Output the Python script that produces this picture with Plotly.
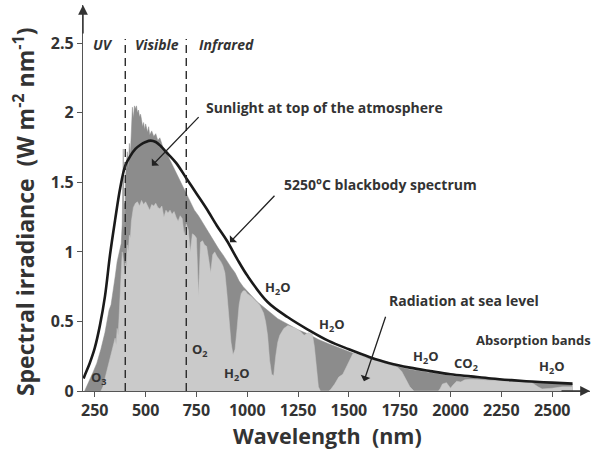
import plotly.graph_objects as go

# ---------------- data ----------------
toa_wl = [200, 220, 240, 260, 280, 300, 310, 320, 330, 340, 350, 360, 370, 380, 385,
          390, 393, 396, 398, 400, 405, 410, 415, 420, 425, 430, 435, 440, 445, 450,
          455, 460, 465, 470, 475, 480, 485, 490, 495, 500, 510, 515, 520, 530, 540,
          550, 560, 570, 580, 590, 600, 610, 620, 630, 640, 650, 660, 670, 680, 690,
          700, 720, 740, 760, 780, 800, 820, 840, 860, 880, 900, 920, 940, 960, 980,
          1000, 1050, 1100, 1150, 1200, 1250, 1300, 1350, 1400, 1450, 1500, 1550, 1600,
          1700, 1800, 1900, 2000, 2100, 2200, 2300, 2400, 2500, 2600]
toa_val = [0.00, 0.06, 0.13, 0.20, 0.30, 0.42, 0.50, 0.58, 0.62, 0.74, 0.82, 0.93, 0.99, 1.06, 1.20,
           1.74, 1.15, 1.35, 1.10, 1.50, 1.62, 1.72, 1.60, 1.78, 1.70, 1.92, 2.04, 1.96, 2.05, 2.03,
           2.05, 2.00, 2.02, 1.97, 1.99, 1.95, 1.90, 1.93, 1.88, 1.92, 1.86, 1.90, 1.84, 1.87, 1.83,
           1.85, 1.80, 1.82, 1.77, 1.73, 1.72, 1.69, 1.66, 1.63, 1.61, 1.58, 1.55, 1.52, 1.49, 1.45,
           1.42, 1.36, 1.30, 1.26, 1.21, 1.16, 1.11, 1.07, 1.02, 0.98, 0.93, 0.89, 0.85, 0.79, 0.75,
           0.72, 0.64, 0.58, 0.52, 0.48, 0.44, 0.41, 0.37, 0.34, 0.31, 0.28, 0.255, 0.235,
           0.19, 0.155, 0.13, 0.11, 0.095, 0.083, 0.072, 0.064, 0.057, 0.051]

sea_wl = [280, 290, 300, 310, 320, 330, 340, 350, 355, 360, 365, 370, 380, 385, 390, 395,
          400, 405, 410, 415, 420, 425, 430, 435, 440, 450, 460, 470, 480, 490, 500, 510,
          520, 530, 540, 550, 560, 570, 580, 590, 600, 610, 620, 630, 640, 650, 660, 670,
          680, 690, 700, 710, 720, 730, 740, 750, 760, 770, 780, 790, 800, 810, 820, 830,
          840, 850, 860, 870, 880, 890, 900, 910, 920, 930, 940, 950, 960, 970, 980, 990,
          1000, 1020, 1040, 1060, 1080, 1090, 1100, 1110, 1120, 1130, 1140, 1150, 1160,
          1180, 1200, 1220, 1240, 1260, 1280, 1300, 1320, 1330, 1340, 1350, 1360, 1400,
          1410, 1430, 1450, 1470, 1490, 1510, 1520, 1550, 1600, 1650, 1700, 1740, 1760,
          1780, 1800, 1820, 1940, 1950, 1960, 1980, 2000, 2010, 2030, 2050, 2070, 2100,
          2200, 2300, 2400, 2430, 2450, 2500, 2550, 2600]
sea_val = [0.00, 0.03, 0.09, 0.15, 0.21, 0.27, 0.33, 0.38, 0.33, 0.45, 0.40, 0.58, 0.90, 1.00, 0.95, 0.85,
           0.92, 0.88, 1.05, 1.00, 1.12, 1.10, 1.22, 1.28, 1.32, 1.35, 1.36, 1.33, 1.37, 1.34, 1.36, 1.33,
           1.30, 1.34, 1.33, 1.35, 1.32, 1.31, 1.33, 1.25, 1.30, 1.28, 1.30, 1.27, 1.29, 1.25, 1.22, 1.26,
           1.24, 1.12, 1.20, 1.16, 1.00, 1.13, 1.12, 1.10, 0.68, 1.07, 1.08, 1.05, 1.04, 0.95, 0.85, 0.98,
           1.00, 0.97, 0.95, 0.93, 0.90, 0.85, 0.70, 0.50, 0.35, 0.26, 0.30, 0.45, 0.62, 0.70, 0.72, 0.72,
           0.70, 0.68, 0.65, 0.62, 0.56, 0.50, 0.40, 0.22, 0.12, 0.11, 0.25, 0.35, 0.40,
           0.45, 0.47, 0.46, 0.45, 0.43, 0.40, 0.42, 0.41, 0.32, 0.15, 0.03, 0.00, 0.00,
           0.01, 0.05, 0.10, 0.12, 0.18, 0.24, 0.27, 0.26, 0.23, 0.21, 0.19, 0.17, 0.14,
           0.08, 0.03, 0.00, 0.00, 0.02, 0.05, 0.06, 0.02, 0.04, 0.07, 0.065, 0.08, 0.085,
           0.075, 0.07, 0.06, 0.03, 0.015, 0.02, 0.03, 0.03]

bb_wl = [195, 200, 225, 250, 275, 300, 325, 350, 375, 400, 425, 450, 475, 500, 525, 550,
         575, 600, 650, 700, 750, 800, 850, 900, 950, 1000, 1100, 1200, 1300, 1400, 1500,
         1600, 1700, 1800, 1900, 2000, 2100, 2200, 2300, 2400, 2500, 2600]
bb_val = [0.09, 0.11, 0.20, 0.31, 0.47, 0.68, 0.98, 1.23, 1.46, 1.62, 1.69, 1.74, 1.77, 1.79, 1.80, 1.79,
          1.76, 1.72, 1.64, 1.53, 1.42, 1.31, 1.19, 1.08, 0.95, 0.83, 0.64, 0.53, 0.44, 0.36, 0.30,
          0.245, 0.20, 0.168, 0.143, 0.12, 0.105, 0.09, 0.078, 0.068, 0.06, 0.053]

band_edges = [400, 700]
x_ticks = [250, 500, 750, 1000, 1250, 1500, 1750, 2000, 2250, 2500]
y_ticks = [0, 0.5, 1, 1.5, 2, 2.5]
y_tick_text = ["0", "0.5", "1", "1.5", "2", "2.5"]

# ---------------- styling ----------------
FONT = "Open Sans, Lato, sans-serif"
DARK = "#8c8c8c"
LIGHT = "#cacaca"
INK = "#333333"

fig = go.Figure()
fig.add_trace(go.Scatter(x=toa_wl, y=toa_val, mode="lines", fill="tozeroy",
                         line=dict(color=DARK, width=0.5), fillcolor=DARK,
                         hoverinfo="skip", showlegend=False))
fig.add_trace(go.Scatter(x=sea_wl, y=sea_val, mode="lines", fill="tozeroy",
                         line=dict(color=LIGHT, width=0.5), fillcolor=LIGHT,
                         hoverinfo="skip", showlegend=False))
fig.add_trace(go.Scatter(x=bb_wl, y=bb_val, mode="lines",
                         line=dict(color="#1a1a1a", width=2.6, shape="spline"),
                         hoverinfo="skip", showlegend=False))

for xe in band_edges:
    fig.add_shape(type="line", x0=xe, x1=xe, y0=0, y1=2.53, xref="x", yref="y",
                  line=dict(color="#2a2a2a", width=1.4, dash="8px,5px"))

def label(text, x, y, size=14, anchor="center", italic=False, weight="bold"):
    fig.add_annotation(x=x, y=y, xref="x", yref="y", text=text, showarrow=False,
                       xanchor=anchor, yanchor="middle",
                       font=dict(family=FONT, size=size, color=INK, weight=weight,
                                 style="italic" if italic else "normal"))

def arrow(x_tail, y_tail, x_head, y_head):
    fig.add_annotation(x=x_head, y=y_head, ax=x_tail, ay=y_tail, xref="x", yref="y",
                       axref="x", ayref="y", text="", showarrow=True,
                       arrowhead=1, arrowsize=1.3, arrowwidth=1.3, arrowcolor="#222")

label("UV", 290, 2.49, size=14, italic=True)
label("Visible", 556, 2.49, size=14, italic=True)
label("Infrared", 900, 2.49, size=14, italic=True)

label("Sunlight at top of the atmosphere", 787, 2.04, anchor="left")
arrow(768, 1.98, 531, 1.62)
label("5250°C blackbody spectrum", 1171, 1.486, anchor="left")
arrow(1141, 1.414, 915, 1.069)
label("Radiation at sea level", 1687, 0.652, anchor="left")
arrow(1683, 0.544, 1574, 0.07)
label("Absorption bands", 2117, 0.365, size=13, anchor="left")

label("H<sub>2</sub>O", 1151, 0.738, size=13)
label("H<sub>2</sub>O", 1417, 0.472, size=13)
label("H<sub>2</sub>O", 1879, 0.242, size=13)
label("H<sub>2</sub>O", 2499, 0.170, size=13)
label("H<sub>2</sub>O", 950, 0.12, size=13)
label("O<sub>2</sub>", 768, 0.293, size=13)
label("CO<sub>2</sub>", 2076, 0.192, size=13)
label("O<sub>3</sub>", 271, 0.091, size=13)

# axis titles
fig.add_annotation(x=-0.1164, y=0.466, xref="paper", yref="paper", textangle=-90,
                   text="Spectral irradiance  (W m<sup>-2</sup> nm<sup>-1</sup>)", showarrow=False,
                   xanchor="center", yanchor="middle",
                   font=dict(family=FONT, size=23, color=INK, weight="bold"))
fig.add_annotation(x=0.482, y=-0.114, xref="paper", yref="paper",
                   text="Wavelength  (nm)", showarrow=False,
                   xanchor="center", yanchor="middle",
                   font=dict(family=FONT, size=21.5, color=INK, weight="bold"))

# axis arrowheads
fig.add_annotation(x=0, y=1, xref="paper", yref="paper", ax=0, ay=30, text="",
                   showarrow=True, arrowhead=2, arrowsize=1.4, arrowwidth=1.4, arrowcolor=INK)
fig.add_annotation(x=1, y=0, xref="paper", yref="paper", ax=-30, ay=0, text="",
                   showarrow=True, arrowhead=2, arrowsize=1.4, arrowwidth=1.4, arrowcolor=INK)

fig.update_layout(
    width=593, height=449,
    margin=dict(l=83, r=3, t=5, b=58),
    paper_bgcolor="white", plot_bgcolor="white",
    font=dict(family=FONT, color=INK),
    xaxis=dict(range=[192, 2686], tickvals=x_ticks, showgrid=False, zeroline=False,
               showline=True, linecolor="#555", linewidth=1.4,
               ticks="outside", ticklen=5, tickwidth=1.2, tickcolor="#555",
               tickfont=dict(family=FONT, size=16, color=INK, weight="bold")),
    yaxis=dict(range=[0, 2.775], tickvals=y_ticks, ticktext=y_tick_text, showgrid=False,
               zeroline=False, showline=True, linecolor="#555", linewidth=1.4,
               ticks="outside", ticklen=5, tickwidth=1.2, tickcolor="#555",
               tickfont=dict(family=FONT, size=16, color=INK, weight="bold")),
)

fig.write_html("out.html", config={"displayModeBar": False},
               post_script="document.body.style.margin='0';document.body.style.overflow='hidden';")
